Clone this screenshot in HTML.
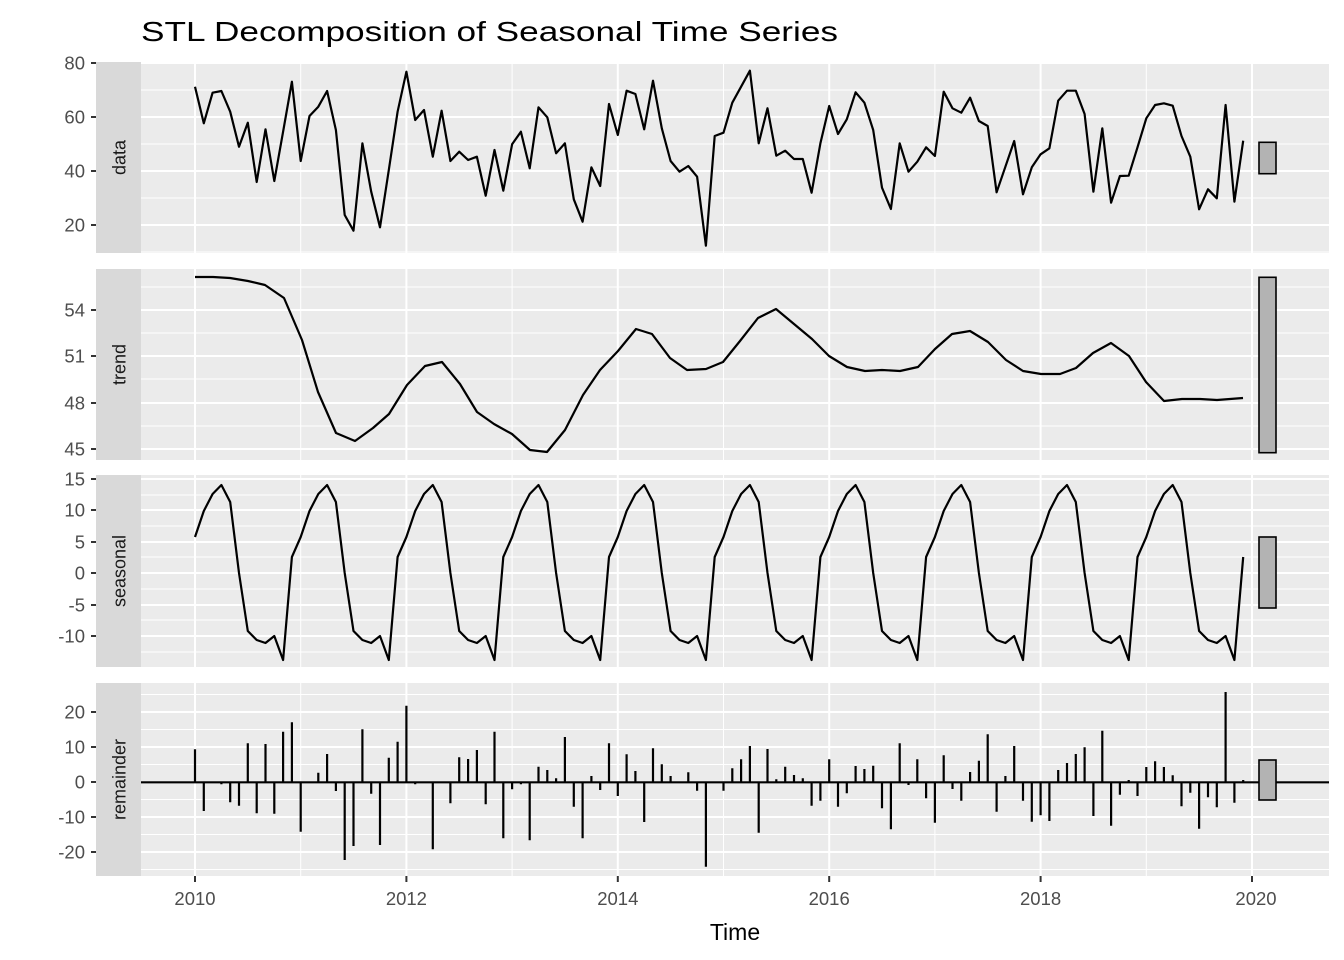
<!DOCTYPE html>
<html><head><meta charset="utf-8"><style>
html,body{margin:0;padding:0;background:#fff;}
svg{display:block;font-family:"Liberation Sans",Arial,sans-serif;}
</style></head><body>
<svg id="s" width="1344" height="960" viewBox="0 0 1344 960" xmlns="http://www.w3.org/2000/svg">
<rect width="1344" height="960" fill="#fff"/>
<g id="bg"></g>
<text x="141" y="41" font-size="28" fill="#000" textLength="697" lengthAdjust="spacingAndGlyphs">STL Decomposition of Seasonal Time Series</text>
<rect x="96" y="62" width="45" height="191" fill="#D9D9D9"/>
<rect x="96" y="269" width="45" height="191" fill="#D9D9D9"/>
<rect x="96" y="475" width="45" height="192" fill="#D9D9D9"/>
<rect x="96" y="683" width="45" height="193" fill="#D9D9D9"/>
<g font-size="18" fill="#1A1A1A" text-anchor="middle">
<text transform="translate(125.5,157.5) rotate(-90)">data</text>
<text transform="translate(125.5,364.5) rotate(-90)">trend</text>
<text transform="translate(125.5,571) rotate(-90)">seasonal</text>
<text transform="translate(125.5,779.5) rotate(-90)">remainder</text>
</g>
<g font-size="18.5" fill="#4D4D4D" text-anchor="end">
<text x="85" y="69.5">80</text><text x="85" y="123.5">60</text><text x="85" y="177.5">40</text><text x="85" y="231.5">20</text>
<text x="85" y="316.5">54</text><text x="85" y="362.5">51</text><text x="85" y="409.5">48</text><text x="85" y="455.5">45</text>
<text x="85" y="485.5">15</text><text x="85" y="516.5">10</text><text x="85" y="548.5">5</text><text x="85" y="579.5">0</text><text x="85" y="611.5">-5</text><text x="85" y="642.5">-10</text>
<text x="85" y="718.5">20</text><text x="85" y="753.5">10</text><text x="85" y="788.5">0</text><text x="85" y="823.5">-10</text><text x="85" y="858.5">-20</text>
</g>
<g stroke="#333" stroke-width="2">
<path d="M91 63H96M91 117H96M91 171H96M91 225H96M91 310H96M91 356H96M91 403H96M91 449H96M91 479H96M91 510H96M91 542H96M91 573H96M91 605H96M91 636H96M91 712H96M91 747H96M91 782H96M91 817H96M91 852H96"/>
<path d="M195 876V882M406.4 876V882M617.8 876V882M829.2 876V882M1040.6 876V882M1252 876V882"/>
</g>
<g font-size="18.5" fill="#4D4D4D" text-anchor="middle">
<text x="195" y="905">2010</text><text x="406.4" y="905">2012</text><text x="617.8" y="905">2014</text><text x="829.2" y="905">2016</text><text x="1040.6" y="905">2018</text><text x="1256" y="905">2020</text>
</g>
<text x="735" y="940" font-size="23" fill="#000" text-anchor="middle">Time</text>
<g id="fg"></g>
</svg>
<script>
var NS="http://www.w3.org/2000/svg";
function el(p,t,a){var e=document.createElementNS(NS,t);for(var k in a)e.setAttribute(k,a[k]);p.appendChild(e);return e;}
var bg=document.getElementById('bg'),fg=document.getElementById('fg');
var panels=[[62,253,[90,144,198,252],[63,117,171,225]],[269,460,[287,333,379,426],[310,356,403,449]],[475,667,[495,526,557,589,620,652],[479,510,542,573,605,636]],[683,876,[694.5,729.5,764.5,799.5,834.5,869.5],[712,747,782,817,852]]];
var X0=141,X1=1329,px=105.7;
panels.forEach(function(p){
 el(bg,'rect',{x:X0,y:p[0],width:X1-X0,height:p[1]-p[0],fill:'#EBEBEB'});
 p[2].forEach(function(y){el(bg,'line',{x1:X0,x2:X1,y1:y,y2:y,stroke:'#fff','stroke-width':1});});
 for(var k=1;k<10;k+=2){var x=195+k*px;el(bg,'line',{x1:x,x2:x,y1:p[0],y2:p[1],stroke:'#fff','stroke-width':1});}
 p[3].forEach(function(y){el(bg,'line',{x1:X0,x2:X1,y1:y,y2:y,stroke:'#fff','stroke-width':2});});
 for(var k=0;k<=10;k+=2){var x=195+k*px;el(bg,'line',{x1:x,x2:x,y1:p[0],y2:p[1],stroke:'#fff','stroke-width':2});}
});
var dx=8.8083;
var data=[86.7,123.3,92.7,91,111.7,146.7,122.7,182,129.3,181,131.7,81.7,161,116,106.7,91,130,215,230.7,143.3,191.7,227.3,170,111.7,71.7,120,110,156.7,110.7,161,151.7,160,156.7,195.7,150,190.7,144.3,131.7,168.3,107.3,117.3,153.3,143.3,199.3,221.7,167.3,186,104,135,90.7,94,129.3,80.7,128.3,161,171.7,166,176.7,245.7,136,132.7,102.7,86.7,70.7,143.3,108.3,155.7,150.7,159,159,192.7,143.3,106,134,119.3,92.3,102.7,130,187.7,209,143.3,171.7,161.7,147.3,156,91.7,108.3,112.7,97.7,121,126,192.3,166.7,141,194.3,167.3,154.3,148.3,100.7,90.7,90.7,114,191.7,128.3,202.7,176,175.7,147.3,118.3,105,103.3,105.7,136,156.7,209.3,189.3,198.3,105,201.7,140.7];
var pts=data.map(function(y,i){return (195+i*dx).toFixed(1)+','+y;}).join(' ');
el(fg,'polyline',{points:pts,fill:'none',stroke:'#000','stroke-width':2.2,'stroke-linejoin':'round'});
var tr=[[195,277],[213,277],[230,278],[248,281],[265,285],[284,298],[302,340],[318,392],[336,433],[355,441],[373,428],[389,414],[407,385],[425,366],[442,362],[460,384],[477,412],[494,424],[512,434],[530,450],[547,452],[565,430],[583,395],[600,370],[618,351],[636,329],[652,334],[670,358],[687,370],[706,369],[723,362],[740,341],[758,318],[776,309],[794,324],[812,339],[829,356],[847,367],[865,371],[882,370],[900,371],[918,367],[935,349],[952,334],[970,331],[988,342],[1006,360],[1023,371],[1041,374],[1060,374],[1076,368],[1093,353],[1111,343],[1129,356],[1146,382],[1164,401],[1182,399],[1200,399],[1217,400],[1243,398]];
el(fg,'polyline',{points:tr.map(function(p){return p.join(',');}).join(' '),fill:'none',stroke:'#000','stroke-width':2.2,'stroke-linejoin':'round'});
var sp=[537,511,494,485,502,573,631,640,643,636,660,557];
var s=[];for(var i=0;i<120;i++)s.push((195+i*dx).toFixed(1)+','+sp[i%12]);
el(fg,'polyline',{points:s.join(' '),fill:'none',stroke:'#000','stroke-width':2.2,'stroke-linejoin':'round'});
var rz=[178,363,275,283,337,347,160,370,162,371,125,97,425,275,248,192,303,510,468,118,311,465,203,155,47,283,277,478,275,340,202,207,180,343,125,445,298,283,451,230,240,265,141,350,445,258,300,160,318,193,243,396,175,223,258,277,247,302,530,277,302,235,208,168,428,177,268,230,255,265,347,332,208,350,310,228,237,227,355,418,160,285,208,325,398,196,297,332,246,212,133,365,258,168,332,395,376,393,240,219,192,172,378,122,407,314,270,318,231,214,231,256,349,308,416,322,352,6,338,270];
var d='';rz.forEach(function(z,i){var x=(195+i*dx).toFixed(1);d+='M'+x+' 782.3V'+(690+z/3).toFixed(1);});
el(fg,'path',{d:d,stroke:'#000','stroke-width':2.2,fill:'none'});
el(fg,'line',{x1:X0,x2:X1,y1:782.3,y2:782.3,stroke:'#000','stroke-width':2.2});
[[142.3,173.7],[277.3,452.7],[537,608],[760,800]].forEach(function(b){el(fg,'rect',{x:1259,y:b[0],width:17,height:b[1]-b[0],fill:'#B3B3B3',stroke:'#000','stroke-width':1.6});});
</script>
</body></html>
